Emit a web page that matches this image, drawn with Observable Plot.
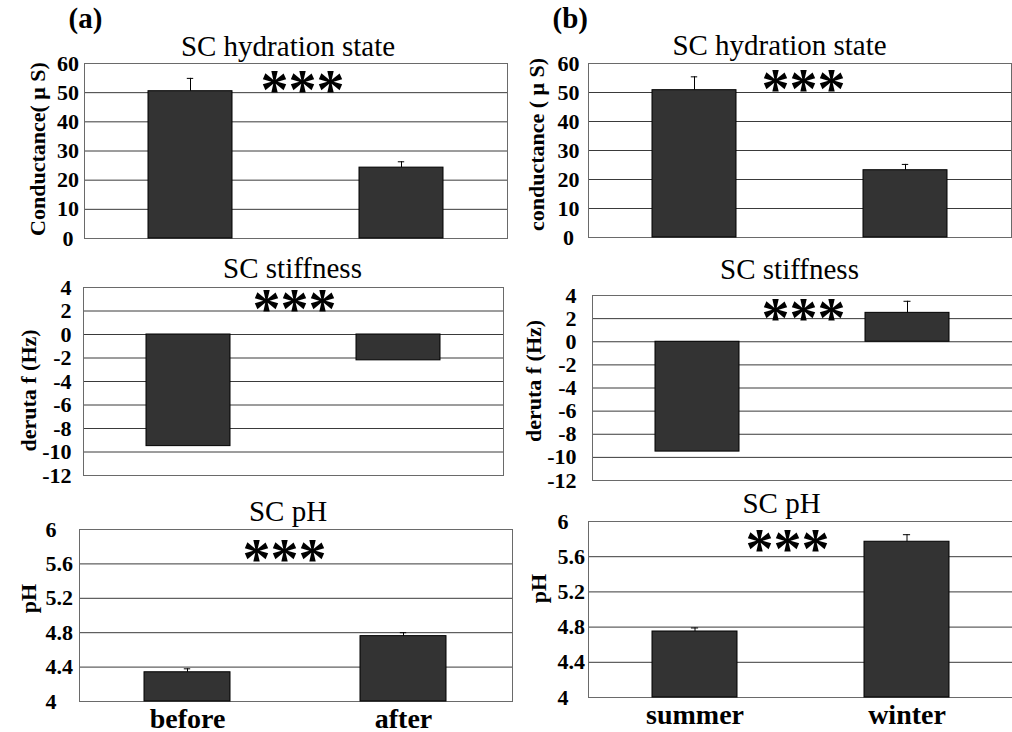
<!DOCTYPE html>
<html><head><meta charset="utf-8">
<script src="https://cdn.jsdelivr.net/npm/d3@7"></script>
<script src="https://cdn.jsdelivr.net/npm/@observablehq/plot@0.6"></script>
<style>
body{margin:0;background:#fff;}
#root{position:relative;width:1012px;height:732px;overflow:hidden;background:#fff;}
#root svg{position:absolute;}
</style></head><body><div id="root"></div>
<script>
// ---- data ----
const groupsA = ["before", "after"];
const groupsB = ["summer", "winter"];
const hydrationA = [50.5, 24.3];
const hydrationAErr = [4.4, 2.0];
const hydrationB = [50.8, 23.2];
const hydrationBErr = [4.6, 2.0];
const stiffnessA = [-9.5, -2.2];
const stiffnessAErr = [0, 0];
const stiffnessB = [-9.5, 2.5];
const stiffnessBErr = [0, 1.0];
const phA = [4.34, 4.76];
const phAErr = [0.04, 0.04];
const phB = [4.75, 5.77];
const phBErr = [0.04, 0.08];
const hydrationTicks = [0, 10, 20, 30, 40, 50, 60];
const stiffnessTicks = [-12, -10, -8, -6, -4, -2, 0, 2, 4];
const phTicks = [4, 4.4, 4.8, 5.2, 5.6, 6];
const titles = ["SC hydration state", "SC stiffness", "SC pH"];
const yLabelsA = ["Conductance( \u03bc S)", "deruta f (Hz)", "pH"];
const yLabelsB = ["conductance ( \u03bc S)", "deruta f (Hz)", "pH"];
const panelTags = ["(a)", "(b)"];
const starText = "***";

const FONT = "'Liberation Serif', 'Times New Roman', serif";
const root = document.getElementById("root");

function panel(p) {
  const data = p.groups.map((g, i) => ({group: g, value: p.values[i], err: p.errs[i]}));
  const errData = data.filter(d => d.err > 0);
  const lo = p.ticks[0], hi = p.ticks[p.ticks.length - 1];
  const base = (lo <= 0 && hi >= 0) ? 0 : lo;
  const fw = p.width - p.ml - p.mr;
  const bw = fw / 2 * 0.4;
  const capInset = (bw - 7) / 2;
  const fmt = d => String(+d.toFixed(1));
  const marks = [
    Plot.ruleY(p.ticks, {stroke: "#3a3a3a", strokeWidth: 1}),
    Plot.frame({stroke: "#6a6a6a"}),
    Plot.barY(data, {x: "group", y1: base, y2: "value", fill: "#333333", stroke: "#000", strokeWidth: 1}),
    Plot.ruleX(errData, {x: "group", y1: "value", y2: d => d.value + d.err, stroke: "#000", strokeWidth: 1}),
    Plot.tickY(errData, {x: "group", y: d => d.value + d.err, insetLeft: capInset, insetRight: capInset, stroke: "#000", strokeWidth: 1}),
    Plot.text(p.ticks, {y: d => d, text: fmt, frameAnchor: "left", textAnchor: p.tickAnchor, dx: p.tickDx,
      fontSize: 22, fontWeight: "bold", fontFamily: FONT, fill: "#000"}),
    Plot.text([p.ylabel], {text: d => d, frameAnchor: "left", textAnchor: "middle", lineAnchor: "middle",
      rotate: -90, dx: p.labelDx, dy: p.labelDy,
      fontSize: 22, fontWeight: "bold", fontFamily: FONT, fill: "#000"}),
    Plot.text([p.title], {text: d => d, frameAnchor: "top", lineAnchor: "bottom", dx: p.titleDx, dy: p.titleDy,
      fontSize: 29, fontWeight: "normal", fontFamily: FONT, fill: "#000"}),
    Plot.text([starText], {text: d => d, frameAnchor: "top", lineAnchor: "bottom", dx: p.starDx, dy: p.starDy,
      fontSize: 56, fontWeight: "bold", fontFamily: FONT, fill: "#000"})
  ];
  if (p.showX) {
    marks.push(Plot.text(p.groups, {x: d => d, text: d => d, frameAnchor: "bottom", lineAnchor: "bottom", dy: p.xDy,
      fontSize: 28, fontWeight: "bold", fontFamily: FONT, fill: "#000"}));
  }
  if (p.tag) {
    marks.push(Plot.text([p.tag], {text: d => d, frameAnchor: "top-left", textAnchor: "start", lineAnchor: "bottom",
      dx: p.tagDx, dy: p.tagDy, fontSize: 29, fontWeight: "bold", fontFamily: FONT, fill: "#000"}));
  }
  const svg = Plot.plot({
    width: p.width, height: p.height,
    marginLeft: p.ml, marginRight: p.mr, marginTop: p.mt, marginBottom: p.mb,
    x: {type: "band", domain: p.groups, paddingInner: 0.6, paddingOuter: 0.3, axis: null},
    y: {domain: [lo, hi], axis: null},
    style: {fontFamily: FONT, background: "transparent", overflow: "visible"},
    marks
  });
  svg.style.left = p.left + "px";
  svg.style.top = p.top + "px";
  root.appendChild(svg);
}

// Left column (a)
panel({left: 0, top: 0, width: 512, height: 250, ml: 84, mr: 5, mt: 63, mb: 12,
  groups: groupsA, values: hydrationA, errs: hydrationAErr, ticks: hydrationTicks,
  tickAnchor: "middle", tickDx: -16.5, ylabel: yLabelsA[0], labelDx: -47, labelDy: -2,
  title: titles[0], titleDx: -8, titleDy: -8, starDx: 6.5, starDy: 45, showX: false,
  tag: panelTags[0], tagDx: -16, tagDy: -36});
panel({left: 0, top: 250, width: 512, height: 240, ml: 83, mr: 9, mt: 37, mb: 15,
  groups: groupsA, values: stiffnessA, errs: stiffnessAErr, ticks: stiffnessTicks,
  tickAnchor: "end", tickDx: -12, ylabel: yLabelsA[1], labelDx: -55, labelDy: 9,
  title: titles[1], titleDx: -1, titleDy: -10, starDx: 1, starDy: 40, showX: false});
panel({left: 0, top: 490, width: 514, height: 242, ml: 79, mr: 2, mt: 39, mb: 31,
  groups: groupsA, values: phA, errs: phAErr, ticks: phTicks,
  tickAnchor: "start", tickDx: -34, ylabel: yLabelsA[2], labelDx: -51, labelDy: -17,
  title: titles[2], titleDx: -8, titleDy: -9, starDx: -11.5, starDy: 48, showX: true, xDy: 26});

// Right column (b)
panel({left: 500, top: 0, width: 512, height: 250, ml: 88, mr: 1, mt: 63, mb: 13,
  groups: groupsB, values: hydrationB, errs: hydrationBErr, ticks: hydrationTicks,
  tickAnchor: "middle", tickDx: -20, ylabel: yLabelsB[0], labelDx: -52, labelDy: -6,
  title: titles[0], titleDx: -20.5, titleDy: -9, starDx: 3.5, starDy: 44, showX: false,
  tag: panelTags[1], tagDx: -36, tagDy: -36});
panel({left: 500, top: 250, width: 512, height: 240, ml: 92, mr: 0, mt: 45, mb: 10,
  groups: groupsB, values: stiffnessB, errs: stiffnessBErr, ticks: stiffnessTicks,
  tickAnchor: "end", tickDx: -16, ylabel: yLabelsB[1], labelDx: -59, labelDy: -7,
  title: titles[1], titleDx: -13, titleDy: -17, starDx: 1, starDy: 41, showX: false});
panel({left: 500, top: 490, width: 512, height: 242, ml: 88, mr: 0, mt: 31, mb: 35,
  groups: groupsB, values: phB, errs: phBErr, ticks: phTicks,
  tickAnchor: "start", tickDx: -31, ylabel: yLabelsB[2], labelDx: -50, labelDy: -21,
  title: titles[2], titleDx: -19, titleDy: -9, starDx: -13, starDy: 46, showX: true, xDy: 26});
</script></body></html>
